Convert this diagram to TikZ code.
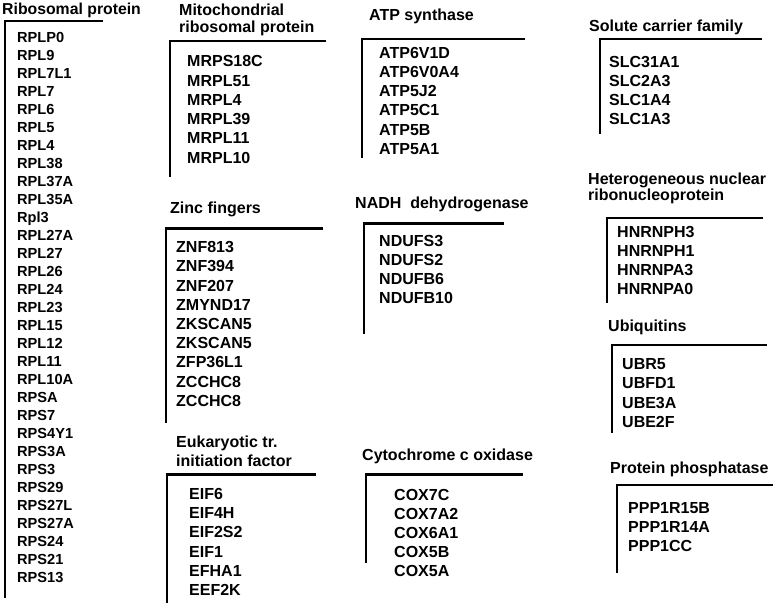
\documentclass[tikz,border=0pt]{standalone}
\usepackage{fontspec}
\setmainfont{Liberation Sans}
\begin{document}
\begin{tikzpicture}[x=1pt,y=-1pt,
  ttl/.style={anchor=base west,inner sep=0pt,font=\fontsize{16}{18}\selectfont\bfseries},
  gn/.style={anchor=base west,inner sep=0pt,font=\fontsize{16}{18}\selectfont\bfseries},
  gnsmall/.style={anchor=base west,inner sep=0pt,font=\fontsize{14.6}{17}\selectfont\bfseries},
  brk/.style={line width=2.8pt,line join=miter,black}]
\useasboundingbox[fill=white] (0,0) rectangle (778,606);

% Ribosomal protein
\node[ttl,font=\fontsize{15.8}{18}\selectfont\bfseries] (tRib) at (2,14.5) {Ribosomal protein};
\draw[brk] (103,21) -- (5,21) -- (5,598);
\foreach \g [count=\i from 0] in {RPLP0,RPL9,RPL7L1,RPL7,RPL6,RPL5,RPL4,RPL38,RPL37A,RPL35A,Rpl3,RPL27A,RPL27,RPL26,RPL24,RPL23,RPL15,RPL12,RPL11,RPL10A,RPSA,RPS7,RPS4Y1,RPS3A,RPS3,RPS29,RPS27L,RPS27A,RPS24,RPS21,RPS13}
  \node[gnsmall] (rib\i) at (17,42.7+18*\i) {\g};

% Mitochondrial ribosomal protein
\node[ttl] (tMit1) at (179,15) {Mitochondrial};
\node[ttl] (tMit2) at (179,32) {ribosomal protein};
\draw[brk] (326,41) -- (170,41) -- (170,177);
\foreach \g [count=\i from 0] in {MRPS18C,MRPL51,MRPL4,MRPL39,MRPL11,MRPL10}
  \node[gn] (mit\i) at (187,66.7+19.3*\i) {\g};

% Zinc fingers
\node[ttl] (tZnf) at (170,213.3) {Zinc fingers};
\draw[brk] (323,228.3) -- (166,228.3) -- (166,422.7);
\foreach \g [count=\i from 0] in {ZNF813,ZNF394,ZNF207,ZMYND17,ZKSCAN5,ZKSCAN5,ZFP36L1,ZCCHC8,ZCCHC8}
  \node[gn] (znf\i) at (176,252.7+19.2*\i) {\g};

% Eukaryotic translation initiation factor
\node[ttl] (tEif1) at (176,447) {Eukaryotic tr.};
\node[ttl] (tEif2) at (176,466) {initiation factor};
\draw[brk] (316,474.3) -- (167,474.3) -- (167,603);
\foreach \g [count=\i from 0] in {EIF6,EIF4H,EIF2S2,EIF1,EFHA1,EEF2K}
  \node[gn] (eif\i) at (189,499.3+19.3*\i) {\g};

% ATP synthase
\node[ttl] (tAtp) at (369,20.5) {ATP synthase};
\draw[brk] (525,39) -- (362,39) -- (362,158);
\foreach \g [count=\i from 0] in {ATP6V1D,ATP6V0A4,ATP5J2,ATP5C1,ATP5B,ATP5A1}
  \node[gn] (atp\i) at (379,58+19.3*\i) {\g};

% NADH dehydrogenase
\node[ttl] (tNadh) at (355,208.3) {NADH\ \ dehydrogenase};
\draw[brk] (504,223.3) -- (364,223.3) -- (364,334.3);
\foreach \g [count=\i from 0] in {NDUFS3,NDUFS2,NDUFB6,NDUFB10}
  \node[gn] (nad\i) at (379,246+19.1*\i) {\g};

% Cytochrome c oxidase
\node[ttl] (tCox) at (362,460) {Cytochrome c oxidase};
\draw[brk] (523,474.3) -- (366,474.3) -- (366,563);
\foreach \g [count=\i from 0] in {COX7C,COX7A2,COX6A1,COX5B,COX5A}
  \node[gn] (cox\i) at (394,500+19.2*\i) {\g};

% Solute carrier family
\node[ttl] (tSlc) at (589,31) {Solute carrier family};
\draw[brk] (762,39) -- (600,39) -- (600,134);
\foreach \g [count=\i from 0] in {SLC31A1,SLC2A3,SLC1A4,SLC1A3}
  \node[gn] (slc\i) at (609,67+19.3*\i) {\g};

% Heterogeneous nuclear ribonucleoprotein
\node[ttl] (tHn1) at (588,184) {Heterogeneous nuclear};
\node[ttl] (tHn2) at (588,200) {ribonucleoprotein};
\draw[brk] (763,218) -- (607,218) -- (607,303);
\foreach \g [count=\i from 0] in {HNRNPH3,HNRNPH1,HNRNPA3,HNRNPA0}
  \node[gn] (hn\i) at (617,237+19.3*\i) {\g};

% Ubiquitins
\node[ttl] (tUb) at (608,331.7) {Ubiquitins};
\draw[brk] (767,345) -- (612,345) -- (612,433);
\foreach \g [count=\i from 0] in {UBR5,UBFD1,UBE3A,UBE2F}
  \node[gn] (ub\i) at (622,369.3+19.5*\i) {\g};

% Protein phosphatase
\node[ttl] (tPp) at (610,473) {Protein phosphatase};
\draw[brk] (773,485) -- (617,485) -- (617,573.3);
\foreach \g [count=\i from 0] in {PPP1R15B,PPP1R14A,PPP1CC}
  \node[gn] (pp\i) at (628,513.3+18.9*\i) {\g};
\end{tikzpicture}
\end{document}
